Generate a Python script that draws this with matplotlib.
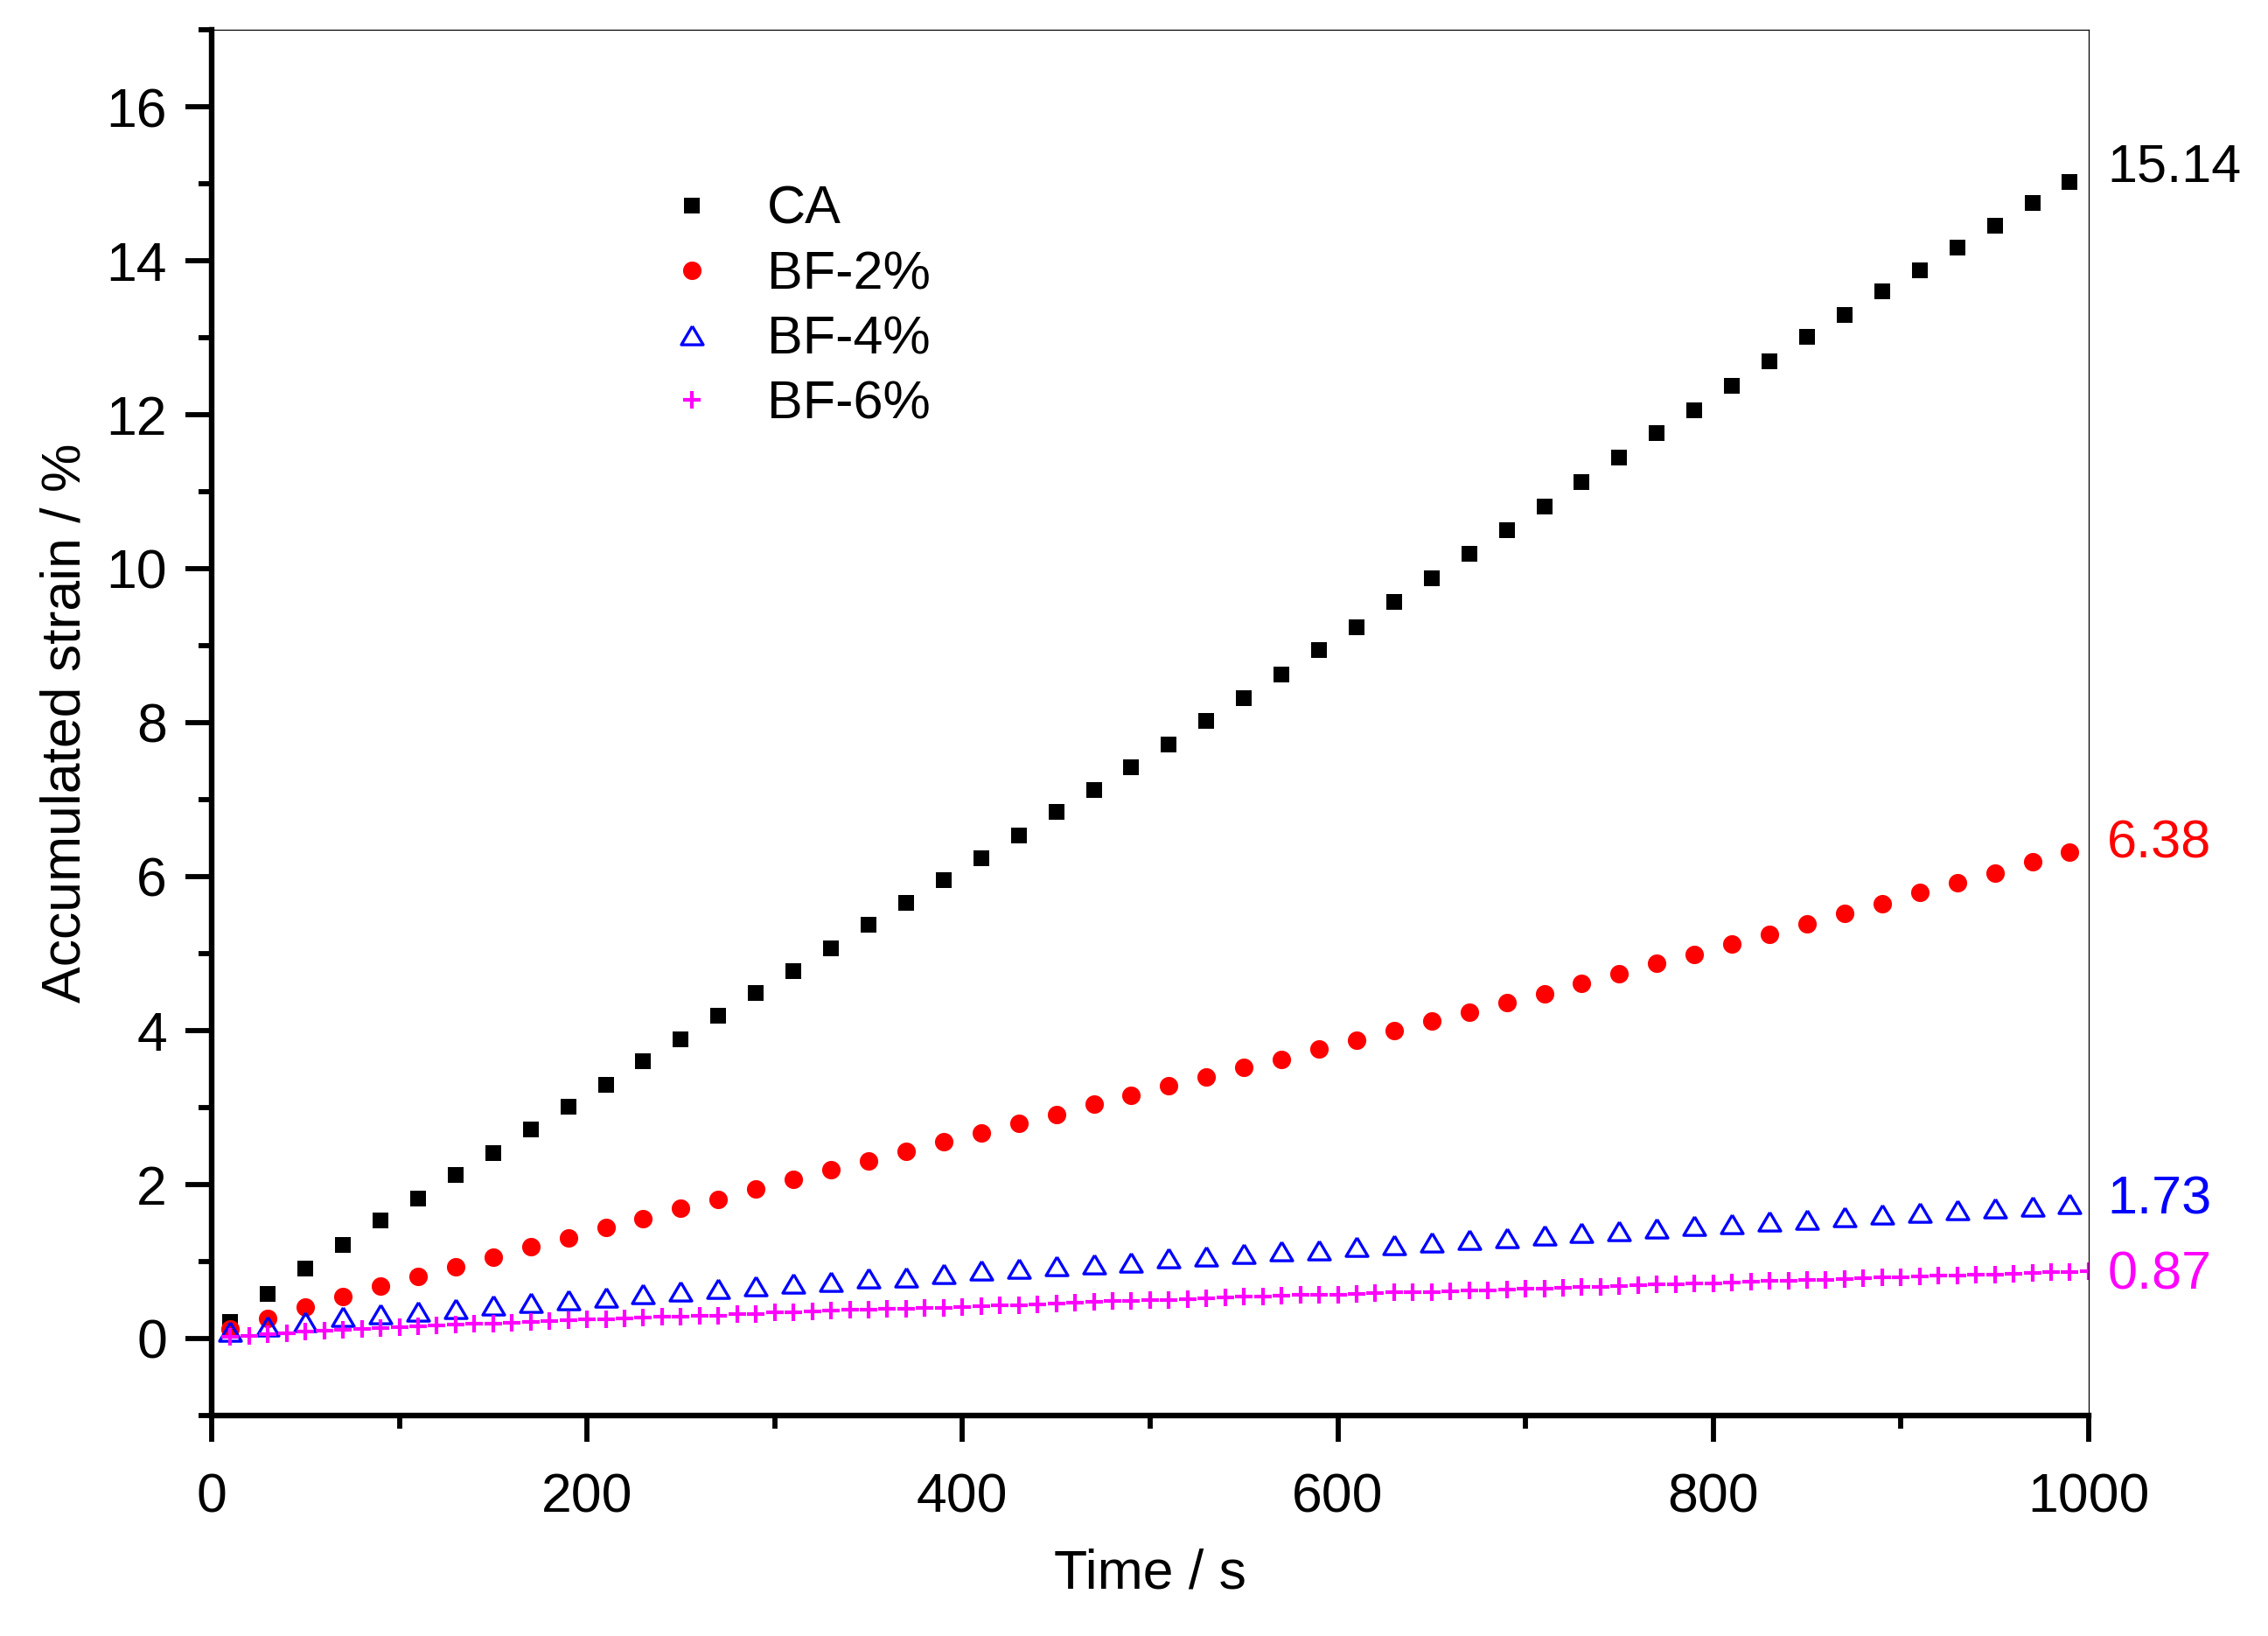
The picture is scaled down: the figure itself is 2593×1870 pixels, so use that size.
import numpy as np
import matplotlib
matplotlib.use('Agg')
import matplotlib.pyplot as plt
from matplotlib.ticker import MultipleLocator

plt.rcParams['font.family'] = ['Liberation Sans', 'DejaVu Sans']

# time axis (s)
t_20 = np.arange(10, 1000, 20)
t_10 = np.arange(10, 1001, 10)

# accumulated strain (%)
ca = [0.21, 0.58, 0.91, 1.22, 1.53, 1.82, 2.12, 2.41, 2.71, 3.01,
      3.30, 3.60, 3.89, 4.19, 4.49, 4.77, 5.07, 5.37, 5.66, 5.95,
      6.24, 6.53, 6.84, 7.13, 7.42, 7.72, 8.02, 8.32, 8.62, 8.94,
      9.24, 9.57, 9.88, 10.19, 10.50, 10.81, 11.12, 11.44, 11.76, 12.06,
      12.38, 12.69, 13.01, 13.30, 13.60, 13.88, 14.17, 14.45, 14.75, 15.02]
bf2 = [0.12, 0.26, 0.41, 0.54, 0.68, 0.81, 0.93, 1.06, 1.19, 1.31,
       1.44, 1.56, 1.69, 1.81, 1.94, 2.07, 2.19, 2.31, 2.43, 2.56,
       2.67, 2.79, 2.91, 3.04, 3.16, 3.28, 3.40, 3.52, 3.63, 3.76,
       3.88, 4.00, 4.12, 4.24, 4.36, 4.48, 4.61, 4.74, 4.87, 4.99,
       5.12, 5.25, 5.39, 5.52, 5.65, 5.79, 5.92, 6.05, 6.19, 6.32]
bf4 = [0.09, 0.16, 0.22, 0.28, 0.32, 0.35, 0.39, 0.43, 0.47, 0.50,
       0.53, 0.58, 0.61, 0.645, 0.68, 0.71, 0.74, 0.78, 0.80, 0.845,
       0.88, 0.91, 0.94, 0.97, 0.99, 1.04, 1.07, 1.10, 1.13, 1.15,
       1.19, 1.22, 1.25, 1.28, 1.31, 1.34, 1.37, 1.40, 1.43, 1.46,
       1.49, 1.52, 1.55, 1.58, 1.61, 1.64, 1.665, 1.69, 1.72, 1.75]
bf6 = [0.02, 0.03, 0.053, 0.072, 0.09, 0.10, 0.114, 0.12, 0.13, 0.144,
       0.16, 0.167, 0.178, 0.19, 0.197, 0.205, 0.216, 0.227, 0.235, 0.246,
       0.25, 0.265, 0.273, 0.28, 0.288, 0.295, 0.30, 0.315, 0.32, 0.335,
       0.345, 0.352, 0.36, 0.371, 0.375, 0.38, 0.386, 0.394, 0.40, 0.405,
       0.417, 0.428, 0.436, 0.443, 0.45, 0.462, 0.473, 0.485, 0.49, 0.50,
       0.504, 0.51, 0.523, 0.53, 0.54, 0.55, 0.557, 0.565, 0.568, 0.572,
       0.58, 0.587, 0.60, 0.602, 0.606, 0.61, 0.621, 0.629, 0.64, 0.644,
       0.652, 0.663, 0.67, 0.674, 0.685, 0.693, 0.70, 0.708, 0.712, 0.72,
       0.73, 0.735, 0.746, 0.75, 0.758, 0.765, 0.776, 0.784, 0.79, 0.795,
       0.807, 0.814, 0.82, 0.826, 0.833, 0.84, 0.852, 0.86, 0.863, 0.87]

# final values written at the right edge
end_labels = ['15.14', '6.38', '1.73', '0.87']
end_label_y = [15.2, 6.42, 1.80, 0.82]
end_colors = ['black', '#FF0000', '#0000FF', '#FF00FF']

# slightly flattened open triangle, like the Origin one
tri = [(0, 1), (-1.18, -1), (1.18, -1), (0, 1)]

fig = plt.figure(figsize=(12.965, 9.35), dpi=200)
ax = fig.add_axes([0.0933, 0.1348, 0.8276, 0.847])

ax.plot(t_20, ca, ls='none', marker='s', ms=6.4, color='black', mew=0, label='CA')
ax.plot(t_20, bf2, ls='none', marker='o', ms=7.6, color='#FF0000', mew=0, label='BF-2%')
ax.plot(t_20, bf4, ls='none', marker=tri, ms=9.0, mfc='none', mec='#0000FF', mew=1.2, label='BF-4%')
ax.plot(t_10, bf6, ls='none', marker='+', ms=7.5, color='#FF00FF', mew=1.5, label='BF-6%')

for lab, y, c in zip(end_labels, end_label_y, end_colors):
    ax.text(1010, y, lab, color=c, fontsize=22, va='center', ha='left', clip_on=False)

ax.set_xlim(0, 1000)
ax.set_ylim(-1, 17)
ax.xaxis.set_major_locator(MultipleLocator(200))
ax.xaxis.set_minor_locator(MultipleLocator(100))
ax.yaxis.set_major_locator(MultipleLocator(2))
ax.yaxis.set_minor_locator(MultipleLocator(1))

for side in ['left', 'bottom']:
    ax.spines[side].set_linewidth(2.3)
for side in ['top', 'right']:
    ax.spines[side].set_linewidth(0.45)

ax.tick_params(which='major', direction='out', length=10.8, width=2.1, labelsize=22.5)
ax.tick_params(which='minor', direction='out', length=5.4, width=2.1)
ax.tick_params(axis='x', which='major', pad=12.5)
ax.tick_params(axis='y', which='major', pad=7.5)

ax.set_xlabel('Time / s', fontsize=22.5, labelpad=10)
ax.set_ylabel('Accumulated strain / %', fontsize=22.5, labelpad=6)

ax.legend(loc='upper left', bbox_to_anchor=(760 / 2593, 1 - 212 / 1870),
          bbox_transform=fig.transFigure, frameon=False, fontsize=22,
          handlelength=1.0, handletextpad=0.92, labelspacing=0.28,
          borderpad=0, borderaxespad=0)

fig.savefig('out.png', dpi=200)
